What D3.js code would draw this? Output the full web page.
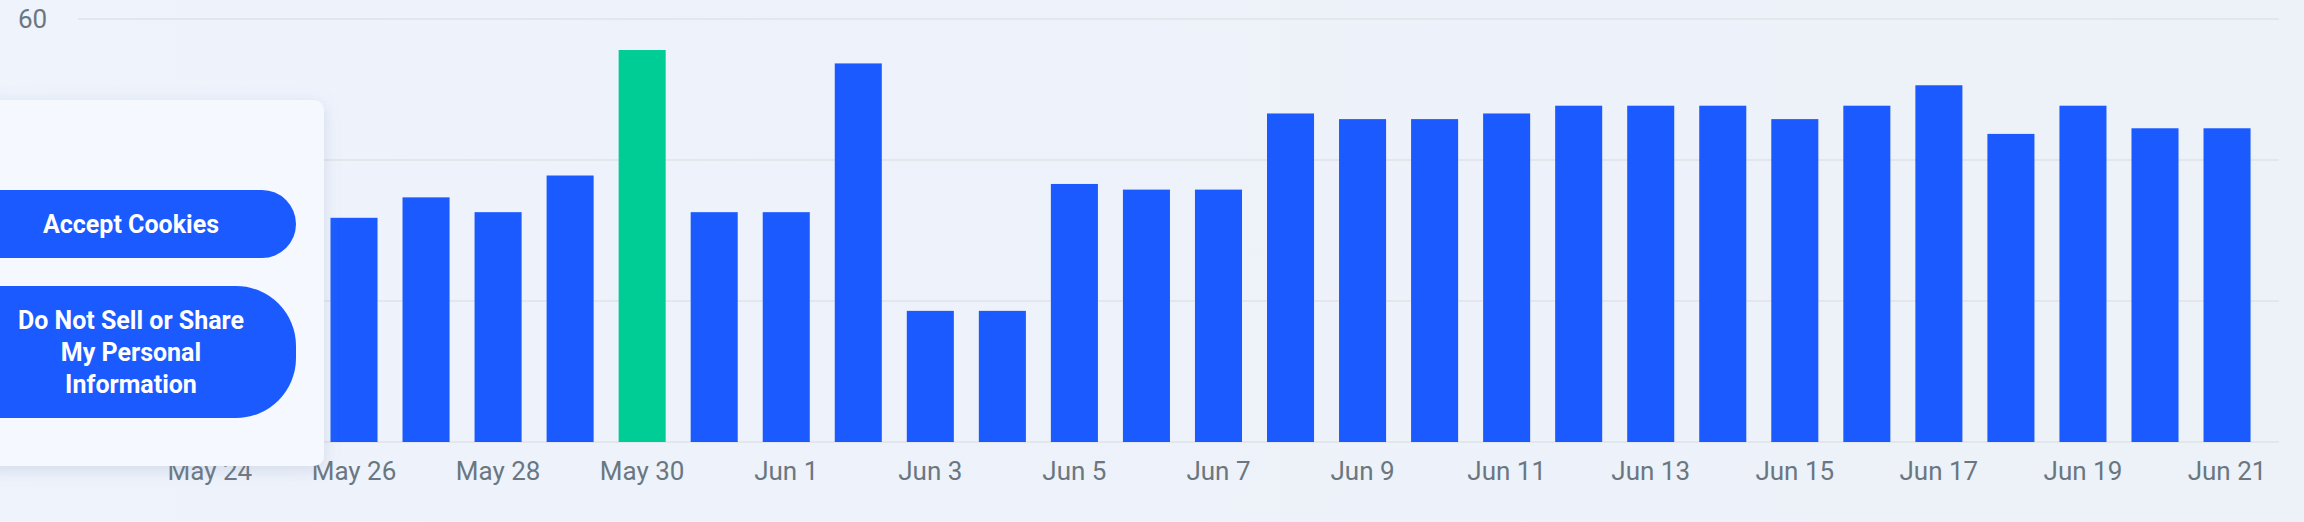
<!DOCTYPE html>
<html><head><meta charset="utf-8">
<script src="https://cdn.jsdelivr.net/npm/d3@7"></script>
<style>
html,body{margin:0;padding:0;width:2304px;height:522px;overflow:hidden;background:linear-gradient(90deg,#eef3fc,#edf1f8);}
svg{position:absolute;left:0;top:0}
</style></head><body>
<script>
const categories = ["May 24","May 25","May 26","May 27","May 28","May 29","May 30","May 31","Jun 1","Jun 2","Jun 3","Jun 4","Jun 5","Jun 6","Jun 7","Jun 8","Jun 9","Jun 10","Jun 11","Jun 12","Jun 13","Jun 14","Jun 15","Jun 16","Jun 17","Jun 18","Jun 19","Jun 20","Jun 21"];
const values = [30,31,31.8,34.7,32.6,37.8,55.6,32.6,32.6,53.7,18.6,18.6,36.6,35.8,35.8,46.6,45.8,45.8,46.6,47.7,47.7,47.7,45.8,47.7,50.6,43.7,47.7,44.5,44.5];
const highlight = "May 30";
const yTicks = [0,20,40,60];
const yTickLabels = [60]; // others hidden behind the cookie panel
const xTickLabels = categories.filter((d,i)=>i%2===0);

const W=2304,H=522;
const svg=d3.select("body").append("svg").attr("width",W).attr("height",H);
const step=72.04, pin=25/72.04;
const x0=354-2*step-step/2;
const x=d3.scaleBand().domain(categories).range([x0, x0+step*categories.length]).paddingInner(pin).paddingOuter(pin/2);
const y=d3.scaleLinear().domain([0,60]).range([442,19]);

svg.append("g").selectAll("line").data(yTicks).join("line")
  .attr("x1",78).attr("x2",2279).attr("y1",d=>y(d)).attr("y2",d=>y(d))
  .attr("stroke","#e3e6ea").attr("stroke-width",2);
svg.append("g").selectAll("text").data(yTickLabels).join("text")
  .attr("x",18).attr("y",d=>y(d)).attr("dy","0.35em")
  .attr("font-family","Roboto, sans-serif").attr("font-size",26).attr("fill","#6b7780").text(d=>d);

svg.append("g").selectAll("rect").data(categories).join("rect")
  .attr("x",d=>x(d)).attr("width",x.bandwidth())
  .attr("y",(d,i)=>y(values[i])).attr("height",(d,i)=>y(0)-y(values[i]))
  .attr("fill",d=>d===highlight?"#00cc96":"#1a5aff");

const xa=d3.axisBottom(x).tickValues(xTickLabels).tickSize(0).tickPadding(20);
const g=svg.append("g").attr("transform",`translate(0,${y(0)})`).call(xa);
g.select(".domain").remove();
g.selectAll("text").attr("font-family","Roboto, sans-serif").attr("font-size",26).attr("fill","#6b7780");

const defs=svg.append("defs");
const f=defs.append("filter").attr("id","sh").attr("x","-20%").attr("y","-20%").attr("width","140%").attr("height","140%");
f.append("feDropShadow").attr("dx",0).attr("dy",4).attr("stdDeviation",8).attr("flood-color","#8090b0").attr("flood-opacity",0.25);
svg.append("rect").attr("x",-20).attr("y",100).attr("width",344).attr("height",366).attr("rx",10).attr("fill","#f5f8fe").attr("filter","url(#sh)");
svg.append("rect").attr("x",-60).attr("y",190).attr("width",356).attr("height",68).attr("rx",34).attr("fill","#1a5aff");
svg.append("rect").attr("x",-60).attr("y",286).attr("width",356).attr("height",132).attr("rx",60).attr("fill","#1a5aff");
const tf="Roboto, sans-serif";
svg.append("text").attr("x",131).attr("y",224).attr("dy","0.35em").attr("text-anchor","middle")
  .attr("font-family",tf).attr("font-weight",700).attr("font-size",25).attr("fill","#fff").text("Accept Cookies");
["Do Not Sell or Share","My Personal","Information"].forEach((t,i)=>{
  svg.append("text").attr("x",131).attr("y",320+i*32).attr("dy","0.35em").attr("text-anchor","middle")
  .attr("font-family",tf).attr("font-weight",700).attr("font-size",25).attr("fill","#fff").text(t);
});
</script>
</body></html>
